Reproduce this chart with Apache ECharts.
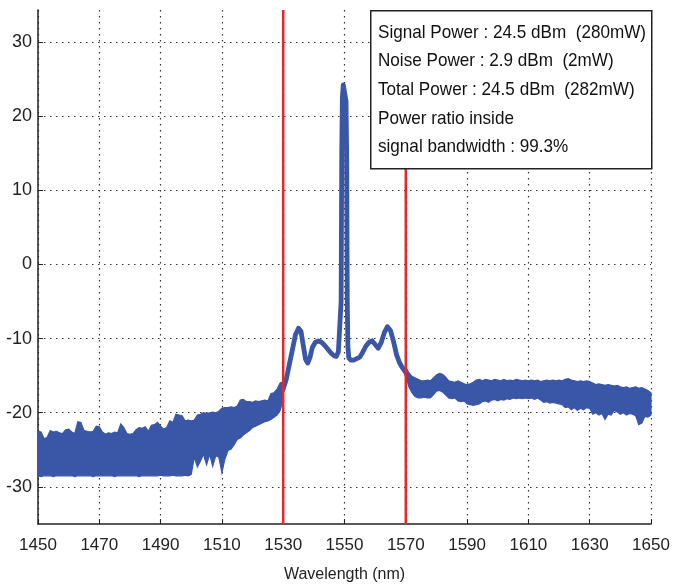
<!DOCTYPE html>
<html><head><meta charset="utf-8">
<script src="https://cdn.jsdelivr.net/npm/echarts@6/dist/echarts.min.js"></script>
<style>html,body{margin:0;padding:0;background:#fff}#c{width:679px;height:588px}</style>
</head><body><div id="c"></div>
<script>
// ---- tick labels / axis ranges ----
const xTickLabels = ['1450','1470','1490','1510','1530','1550','1570','1590','1610','1630','1650'];
const xMin = 1450, xMax = 1650;
const yMin = -35, yMax = 34.3;

// ---- markers (red vertical lines, nm) ----
const markerWavelengths = [1530, 1570];

// ---- noise band left of signal: 1450..1530 nm, 1 nm step ----
const bandLeftWavelength = Array.from({length: 81}, (_, i) => 1450 + i);
const bandLeftUpper = [
 -22.5,-22.6,-23.5,-23.3,-22.4,-22.6,-22.5,-22.7,-22.8,-22.3,
 -22.2,-22.6,-22.8,-21.2,-21.3,-22.4,-22.5,-22.6,-22.5,-21.8,
 -21.9,-22.6,-22.9,-22.7,-22.8,-22.6,-22.7,-21.5,-22.0,-22.8,
 -22.9,-22.8,-22.3,-22.0,-22.1,-21.9,-22.5,-21.7,-21.6,-21.3,
 -21.8,-22.2,-22.0,-21.1,-21.3,-20.2,-20.3,-20.4,-21.1,-21.0,
 -21.1,-21.0,-20.3,-20.2,-20.0,-20.1,-20.0,-19.9,-20.0,-19.8,
 -19.4,-19.3,-19.3,-19.2,-19.3,-19.1,-18.3,-18.2,-18.5,-18.5,
 -18.6,-18.4,-18.5,-18.4,-18.3,-18.4,-17.4,-17.3,-16.8,-16.0,
 -15.8];
const bandLeftLower = [
 -28.5,-28.6,-28.5,-28.5,-28.5,-28.6,-28.5,-28.5,-28.5,-28.5,
 -28.5,-28.5,-28.6,-28.5,-28.5,-28.5,-28.5,-28.5,-28.6,-28.5,
 -28.5,-28.5,-28.5,-28.5,-28.5,-28.6,-28.5,-28.5,-28.5,-28.5,
 -28.5,-28.5,-28.5,-28.6,-28.5,-28.5,-28.5,-28.5,-28.5,-28.5,
 -28.4,-28.5,-28.5,-28.5,-28.4,-28.5,-28.5,-28.5,-28.4,-28.5,
 -28.3,-26.0,-27.3,-26.5,-25.6,-27.0,-25.6,-27.2,-25.8,-26.0,
 -28.1,-26.2,-25.1,-24.9,-24.3,-23.6,-23.4,-23.0,-22.7,-22.4,
 -22.0,-21.8,-21.6,-21.4,-21.2,-21.1,-20.9,-20.6,-20.3,-19.7,
 -18.2];

// ---- signal region trace (nm, dBm) ----
const centerWavelength = [1529,1530,1531,1532,1533,1534,1535,1535.8,1536.5,1537.3,1538,1538.7,1539.5,1540.5,1541.5,1542.5,1543.5,1544.5,1545.5,1546.5,1547.3,1548,1548.6,1548.9,1549.0,1549.1,1549.3,1549.6,1549.9,1550.2,1550.5,1550.7,1550.8,1550.9,1551.1,1551.4,1552,1553,1554,1555,1556,1557,1558,1559,1560,1561,1562,1563,1564,1565,1566,1567,1568,1569,1570,1571,1572];
const centerPower = [-17.5,-16.8,-15.5,-13.5,-11.5,-9.5,-8.6,-9.0,-10.8,-12.8,-13.3,-12.6,-11.2,-10.5,-10.3,-10.5,-10.9,-11.4,-11.9,-12.3,-12.4,-11.8,-11.6,-5,5,15,22.5,24.2,24.4,24.0,22,15,5,-5,-11,-12.6,-12.9,-12.9,-12.7,-12.5,-11.8,-11.0,-10.5,-10.3,-10.8,-11.3,-10.5,-9.2,-8.4,-8.9,-10.4,-12.2,-13.3,-14.0,-14.6,-15.6,-16.2];

// ---- noise band right of signal: 1570..1650 nm, 1 nm step ----
const bandRightWavelength = Array.from({length: 81}, (_, i) => 1570 + i);
const bandRightUpper = [
 -13.8,-14.6,-15.1,-15.3,-15.5,-15.7,-15.7,-15.6,-15.7,-15.3,
 -14.9,-14.7,-14.8,-15.2,-15.7,-15.8,-15.9,-15.7,-15.9,-16.1,
 -16.2,-16.1,-15.9,-15.6,-15.5,-15.7,-15.5,-15.6,-15.7,-15.5,
 -15.6,-15.7,-15.5,-15.7,-15.6,-15.7,-15.5,-15.6,-15.7,-15.6,
 -15.7,-15.6,-15.7,-15.6,-15.8,-15.7,-15.6,-15.7,-15.6,-15.7,
 -15.6,-15.7,-15.5,-15.4,-15.6,-15.7,-15.8,-15.7,-15.8,-15.7,
 -15.8,-16.0,-16.2,-16.1,-16.2,-16.3,-16.2,-16.3,-16.4,-16.3,
 -16.5,-16.6,-16.5,-16.7,-16.6,-16.5,-16.7,-16.6,-16.8,-17.0,
 -17.3];
const bandRightLower = [
 -15.0,-16.5,-17.3,-17.8,-18.0,-18.0,-17.9,-18.0,-18.0,-17.6,
 -17.1,-17.0,-17.2,-17.6,-18.0,-18.1,-18.0,-18.4,-18.5,-18.4,
 -18.8,-18.9,-19.0,-18.9,-18.8,-18.5,-18.4,-18.6,-18.3,-18.2,
 -18.4,-18.2,-18.3,-18.1,-18.2,-18.0,-18.1,-18.0,-18.1,-18.0,
 -18.1,-18.0,-18.2,-18.0,-18.3,-18.6,-18.5,-18.7,-18.6,-18.7,
 -18.8,-18.9,-19.3,-19.2,-19.6,-19.3,-19.7,-19.4,-19.6,-19.3,
 -19.4,-20.2,-20.0,-20.3,-20.1,-20.9,-20.2,-20.3,-19.7,-19.9,
 -20.2,-20.0,-20.3,-20.1,-20.2,-20.4,-21.6,-21.4,-20.5,-20.6,
 -20.3];

// ---- annotation box text ----
const infoLines = [
 'Signal Power : 24.5 dBm  (280mW)',
 'Noise Power : 2.9 dBm  (2mW)',
 'Total Power : 24.5 dBm  (282mW)',
 'Power ratio inside',
 'signal bandwidth : 99.3%'
];
const xAxisName = 'Wavelength (nm)';

// ---- styling ----
const BLUE = '#3a56a6';
const RED = '#e5262a';
const FONT = '"Liberation Sans",Arial,sans-serif';
const gridLine = {show: true, lineStyle: {type: [1.5, 4.5], color: '#333', width: 1.2}};

function bandRender(wl, up, lo) {
  return function (params, api) {
    const pts = [];
    for (let i = 0; i < wl.length; i++) pts.push(api.coord([wl[i], up[i]]));
    for (let i = wl.length - 1; i >= 0; i--) pts.push(api.coord([wl[i], lo[i]]));
    return {type: 'polygon', shape: {points: pts}, style: {fill: BLUE, stroke: BLUE, lineWidth: 1.2}};
  };
}

const chart = echarts.init(document.getElementById('c'));
const series = [
  {type: 'custom', xAxisIndex: 0, z: 2, renderItem: bandRender(bandLeftWavelength, bandLeftUpper, bandLeftLower),
   data: [[bandLeftWavelength[0], bandLeftUpper[0]]], silent: true},
  {type: 'custom', xAxisIndex: 0, z: 2, renderItem: bandRender(bandRightWavelength, bandRightUpper, bandRightLower),
   data: [[bandRightWavelength[0], bandRightUpper[0]]], silent: true},
  {type: 'line', xAxisIndex: 0, z: 3, showSymbol: false, silent: true,
   data: centerWavelength.map((w, i) => [w, centerPower[i]]),
   lineStyle: {color: BLUE, width: 4.8, join: 'round'}}
];
markerWavelengths.forEach(w => series.push({
  type: 'line', xAxisIndex: 0, z: 4, showSymbol: false, silent: true,
  data: [[w, yMin], [w, yMax]], lineStyle: {color: RED, width: 2.5}
}));

chart.setOption({
  animation: false,
  backgroundColor: '#fff',
  grid: {left: 38, right: 28, top: 10, bottom: 61},
  xAxis: [
    {type: 'value', min: xMin, max: xMax, show: false, position: 'bottom'},
    {type: 'category', data: xTickLabels, boundaryGap: false, position: 'bottom',
     axisLine: {lineStyle: {color: '#222', width: 1.5}},
     axisTick: {inside: true, length: 5, lineStyle: {color: '#222', width: 1}},
     axisLabel: {color: '#222', fontSize: 17, fontFamily: FONT, margin: 13},
     splitLine: gridLine,
     name: xAxisName, nameLocation: 'middle', nameGap: 43,
     nameTextStyle: {color: '#222', fontSize: 16, fontFamily: FONT}}
  ],
  yAxis: {type: 'value', min: yMin, max: yMax, minInterval: 10, maxInterval: 10,
    axisLine: {show: true, lineStyle: {color: '#222', width: 1.5}},
    axisTick: {show: true, inside: true, length: 5, lineStyle: {color: '#222'}},
    axisLabel: {color: '#222', fontSize: 18, fontFamily: FONT, margin: 6, showMinLabel: false, showMaxLabel: false},
    splitLine: Object.assign({showMinLine: false, showMaxLine: false}, gridLine)},
  series: series,
  graphic: [
    {type: 'rect', left: 370, top: 10, z: 100, shape: {width: 281, height: 158},
     style: {fill: '#fff', stroke: '#222', lineWidth: 1.5}},
    {type: 'text', x: 378, y: 18, scaleX: 0.9, z: 101,
     style: {text: infoLines.join('\n'), font: '19px ' + FONT, fill: '#111', lineHeight: 28.7}}
  ]
});
</script></body></html>
